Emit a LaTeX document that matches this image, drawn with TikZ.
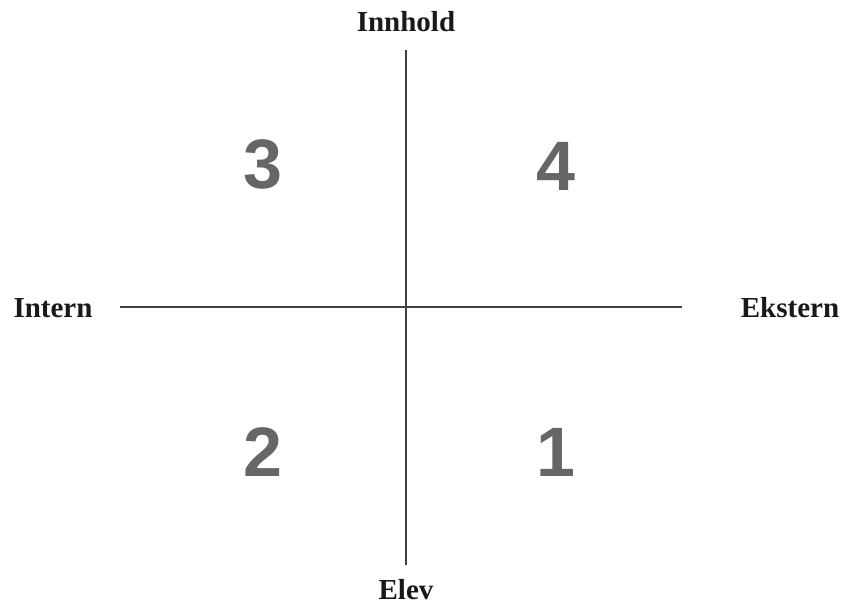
\documentclass[tikz,border=0pt]{standalone}
\usepackage{fontspec}
\setmainfont{Liberation Serif}
\newfontfamily\numfont{Liberation Sans}
\definecolor{numgray}{HTML}{666666}
\definecolor{axisgray}{HTML}{404040}
\begin{document}
\begin{tikzpicture}[x=1pt,y=-1pt,
  axislabel/.style={font=\fontsize{29}{30}\selectfont\bfseries, inner sep=0pt, text=black!90},
  quadnum/.style={font=\numfont\fontsize{70}{70}\selectfont\bfseries, text=numgray, inner sep=0pt},
  axisline/.style={draw=axisgray, line width=1.4pt}]
\useasboundingbox (0,0) rectangle (845,605);
\coordinate (top) at (406,50);
\coordinate (bot) at (406,565);
\coordinate (lft) at (120,307);
\coordinate (rgt) at (682,307);
\draw[axisline] (top) -- (bot);
\draw[axisline] (lft) -- (rgt);
\node[axislabel] (innhold) at (406,22) {Innhold};
\node[axislabel] (elev) at (406,590) {Elev};
\node[axislabel] (intern) at (53,308) {Intern};
\node[axislabel] (ekstern) at (790,308) {Ekstern};
\node[quadnum] (q3) at (263,164) {3};
\node[quadnum] (q4) at (556,166) {4};
\node[quadnum] (q2) at (263,452) {2};
\node[quadnum] (q1) at (556,452) {1};
\end{tikzpicture}
\end{document}
